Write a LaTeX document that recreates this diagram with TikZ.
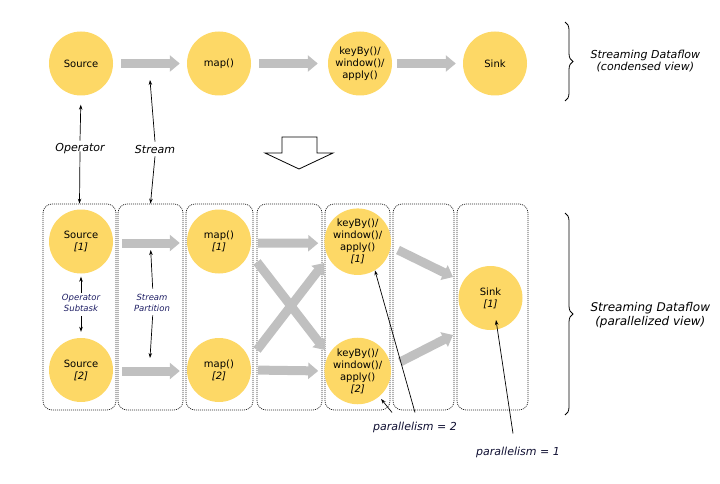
\documentclass[tikz,border=0pt]{standalone}
\usepackage{fontspec}
\setmainfont{DejaVu Sans}
\usetikzlibrary{arrows.meta,decorations.pathreplacing}
\definecolor{opyellow}{RGB}{253,216,102}
\definecolor{flowgray}{RGB}{192,192,192}
\definecolor{labnavy}{RGB}{30,30,100}
\definecolor{darknavy}{RGB}{15,15,50}
\tikzset{
  op/.style={circle,fill=opyellow,minimum size=64pt,inner sep=0pt,align=center,
    font=\fontsize{10}{12}\selectfont},
  flow/.style={draw=flowgray,line width=9pt,-{Triangle[length=10pt,width=16pt]}},
  part/.style={draw=black!85,dash pattern=on 1pt off 1pt,line width=0.75pt,rounded corners=9pt,
    minimum height=206pt,inner sep=0pt},
  pin/.style={draw=black,line width=0.7pt,-{Stealth[length=5pt,width=3.5pt]}},
  biglab/.style={font=\fontsize{11}{13}\selectfont\itshape},
  smalllab/.style={font=\fontsize{8.5}{11}\selectfont\itshape,text=labnavy,align=center,inner sep=1pt},
  sidelab/.style={align=center,anchor=west},
  bracestyle/.style={draw=black,line width=0.8pt,decorate,decoration={brace,amplitude=8pt}},
}
\begin{document}
\begin{tikzpicture}[x=1pt,y=-1pt]
\useasboundingbox (0,0) rectangle (720,484);
% ---------- condensed view ----------
\node[op] (src) at (81,63.5) {Source};
\node[op] (map) at (219,63.5) {map()};
\node[op] (key) at (360,63.5) {keyBy()/\\window()/\\apply()};
\node[op] (snk) at (495,63.5) {Sink};
\draw[flow,shorten <=8pt,shorten >=7pt] (src) -- (map);
\draw[flow,shorten <=8pt,shorten >=10pt] (map) -- (key);
\draw[flow,shorten <=5pt,shorten >=7pt] (key) -- (snk);
\coordinate (b1a) at (565,22);
\coordinate (b1b) at (565,101);
\draw[bracestyle] (b1a) -- (b1b);
\node[sidelab,font=\fontsize{11}{12.5}\selectfont\itshape] (tl1) at (587,61) {Streaming Dataflow\\(condensed view)};
% ---------- hollow arrow ----------
\draw[line width=0.8pt,fill=white] (282,137) -- (317,137) -- (317,153) -- (333,153) -- (299,169) -- (265,153) -- (282,153) -- cycle;
% ---------- parallel view boxes ----------
\node[part,minimum width=73pt] (p1) at (79.5,307) {};
\node[part,minimum width=65pt] (p2) at (150.5,307) {};
\node[part,minimum width=67pt] (p3) at (219.5,307) {};
\node[part,minimum width=65pt] (p4) at (289.5,307) {};
\node[part,minimum width=65pt] (p5) at (357.5,307) {};
\node[part,minimum width=61pt] (p6) at (423.5,307) {};
\node[part,minimum width=71pt] (p7) at (492.5,307) {};
% ---------- operator subtasks ----------
\node[op] (srcA) at (81,241.5) {Source\\\textit{[1]}};
\node[op] (srcB) at (81,370) {Source\\\textit{[2]}};
\node[op] (mapA) at (219,241.5) {map()\\\textit{[1]}};
\node[op] (mapB) at (219,370) {map()\\\textit{[2]}};
\node[op] (keyA) at (357.7,241.7) {keyBy()/\\window()/\\apply()\\\textit{[1]}};
\node[op] (keyB) at (357.7,371) {keyBy()/\\window()/\\apply()\\\textit{[2]}};
\node[op] (snkA) at (490.5,298) {Sink\\\textit{[1]}};
% ---------- partitions ----------
\draw[flow,shorten <=9pt,shorten >=7pt] ([yshift=-1.5pt]srcA.east) -- ([yshift=-1.5pt]mapA.west);
\draw[flow,shorten <=9pt,shorten >=7pt] ([yshift=-1pt]srcB.east) -- ([yshift=-1pt]mapB.west);
\draw[flow,shorten <=7pt,shorten >=6pt] ([yshift=-1.5pt]mapA.east) -- ([yshift=-1.5pt]keyA.west);
\draw[flow,shorten <=7pt,shorten >=6pt] (mapB.east) -- (keyB.west);
\coordinate (xa1) at (257,262);
\coordinate (xa2) at (325,350);
\coordinate (xb1) at (257,350);
\coordinate (xb2) at (324,263);
\draw[flow] (xa1) -- (xa2);
\draw[flow] (xb1) -- (xb2);
\coordinate (ka1) at (398,250);
\coordinate (ka2) at (453,277);
\coordinate (kb1) at (400,362);
\coordinate (kb2) at (453,335);
\draw[flow] (ka1) -- (ka2);
\draw[flow] (kb1) -- (kb2);
% ---------- labels ----------
\node[biglab,inner sep=1pt] (oplab) at (80,149) {Operator};
\node[biglab,inner sep=1pt] (stlab) at (155,149) {Stream};
\coordinate (sttip) at (150,80);
\draw[pin,shorten >=9pt] ([yshift=2pt]oplab.north) -- (src.south);
\draw[pin] ([yshift=4pt]oplab.south) -- (p1.north);
\draw[pin] ([yshift=2pt]stlab.north) -- (sttip);
\draw[pin] ([yshift=-2pt]stlab.south) -- (p2.north);
\node[smalllab] (osub) at (81,302.5) {Operator\\Subtask};
\draw[pin,shorten >=3pt] (osub.north) -- (srcA.south);
\draw[pin,shorten >=6pt] ([yshift=-4pt]osub.south) -- (srcB.north);
\node[smalllab] (spart) at (152,302.5) {Stream\\Partition};
\coordinate (spa) at (150.7,250);
\coordinate (spb) at (150,358);
\draw[pin] ([xshift=0.7pt,yshift=4pt]spart.north) -- (spa);
\draw[pin] ([xshift=0.7pt,yshift=-3pt]spart.south) -- (spb);
\node[biglab,text=darknavy,inner sep=1pt] (par2) at (415,427) {parallelism = 2};
\node[biglab,text=darknavy,inner sep=1pt] (par1) at (518,452) {parallelism = 1};
\draw[pin] ([yshift=8pt]par2.north) -- (keyA.-59);
\draw[pin,shorten >=3pt] ([xshift=-23pt,yshift=8pt]par2.north) -- (keyB.-50);
\draw[pin] ([xshift=-5pt,yshift=12pt]par1.north) -- ([xshift=5.5pt,yshift=-22pt]snkA.center);
% ---------- right brace ----------
\coordinate (b2a) at (565,213);
\coordinate (b2b) at (565,415);
\draw[bracestyle] (b2a) -- (b2b);
\node[sidelab,font=\fontsize{12}{14}\selectfont\itshape] (tl2) at (587,315) {Streaming Dataflow\\(parallelized view)};
\end{tikzpicture}
\end{document}
